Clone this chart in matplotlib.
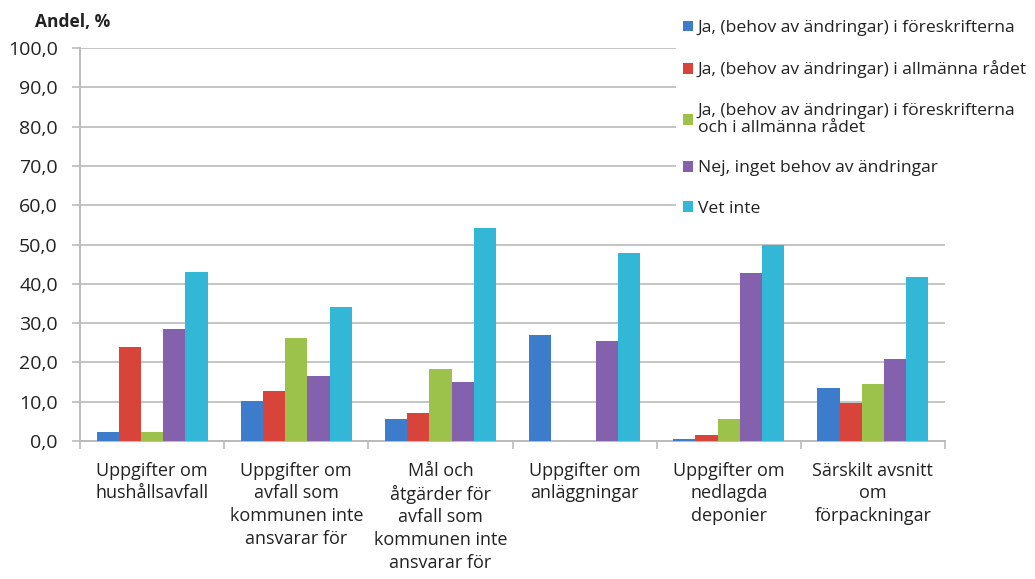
import numpy as np
import matplotlib
matplotlib.use('Agg')
import matplotlib.pyplot as plt

plt.rcParams['font.family'] = ['Open Sans', 'DejaVu Sans']

# categories (x axis)
categories = ['Uppgifter om\nhushållsavfall',
              'Uppgifter om\navfall som\nkommunen inte\nansvarar för',
              'Mål och\nåtgärder för\navfall som\nkommunen inte\nansvarar för',
              'Uppgifter om\nanläggningar',
              'Uppgifter om\nnedlagda\ndeponier',
              'Särskilt avsnitt\nom\nförpackningar']

series_names = ['Ja, (behov av ändringar) i föreskrifterna',
                'Ja, (behov av ändringar) i allmänna rådet',
                'Ja, (behov av ändringar) i föreskrifterna\noch i allmänna rådet',
                'Nej, inget behov av ändringar',
                'Vet inte']

ja_foreskr = [2.2, 10.3, 5.5, 27.0, 0.6, 13.5]
ja_allm = [23.8, 12.7, 7.0, 0.0, 1.4, 9.7]
ja_bada = [2.2, 26.3, 18.2, 0.0, 5.5, 14.4]
nej = [28.6, 16.6, 15.0, 25.4, 42.7, 20.9]
vet_inte = [43.0, 34.2, 54.2, 47.9, 49.9, 41.7]

yticks = [0, 10, 20, 30, 40, 50, 60, 70, 80, 90, 100]
colors = ['#3d7ccb', '#d8433a', '#9cc24b', '#8461ad', '#33b7d7']

fig = plt.figure(figsize=(10.35, 5.79), dpi=100)
ax = fig.add_axes([80/1035, 1-441/579, 865/1035, 393/579])

x = np.arange(len(categories))
w = 0.154
data = [ja_foreskr, ja_allm, ja_bada, nej, vet_inte]
for i, vals in enumerate(data):
    ax.bar(x + (i - 2)*w, vals, width=w, color=colors[i], label=series_names[i], zorder=3)

ax.set_xlim(-0.5, len(categories) - 0.5)
ax.set_ylim(0, 100)
ax.set_yticks(yticks)
ax.set_yticklabels([f'{v:.1f}'.replace('.', ',') for v in yticks], fontsize=14, color='#222222')
ax.yaxis.grid(True, color='#c4c4c4', lw=1.4, zorder=0)
ax.tick_params(axis='y', length=6, color='#bbbbbb', width=1.2, pad=10)

ax.set_xticks(x)
ax.set_xticklabels(categories, fontsize=13, color='#222222', linespacing=1.33)
ax.tick_params(axis='x', which='major', length=0, pad=15)
ax.set_xticks(np.arange(-0.5, len(categories)), minor=True)
ax.tick_params(axis='x', which='minor', length=6, color='#bbbbbb', width=1.2)

for s in ['top', 'right']:
    ax.spines[s].set_visible(False)
for s in ['left', 'bottom']:
    ax.spines[s].set_color('#bbbbbb')
    ax.spines[s].set_linewidth(1.4)

fig.text(35/1035, 1-22/579, 'Andel, %', fontsize=12.5, fontweight='bold', va='center', color='#222222')

leg = fig.legend(loc='upper left', bbox_to_anchor=(676/1035, 1-13/579), frameon=True,
                 prop={'size': 12.6}, handlelength=0.55, handleheight=0.55, handletextpad=0.3,
                 labelspacing=1.4, borderpad=0.4, borderaxespad=0)
for t in leg.get_texts():
    t.set_linespacing(1.08)
    t.set_color('#222222')
leg.get_frame().set_facecolor('white')
leg.get_frame().set_edgecolor('none')
leg.get_frame().set_alpha(1)

fig.savefig('out.png', dpi=100)
